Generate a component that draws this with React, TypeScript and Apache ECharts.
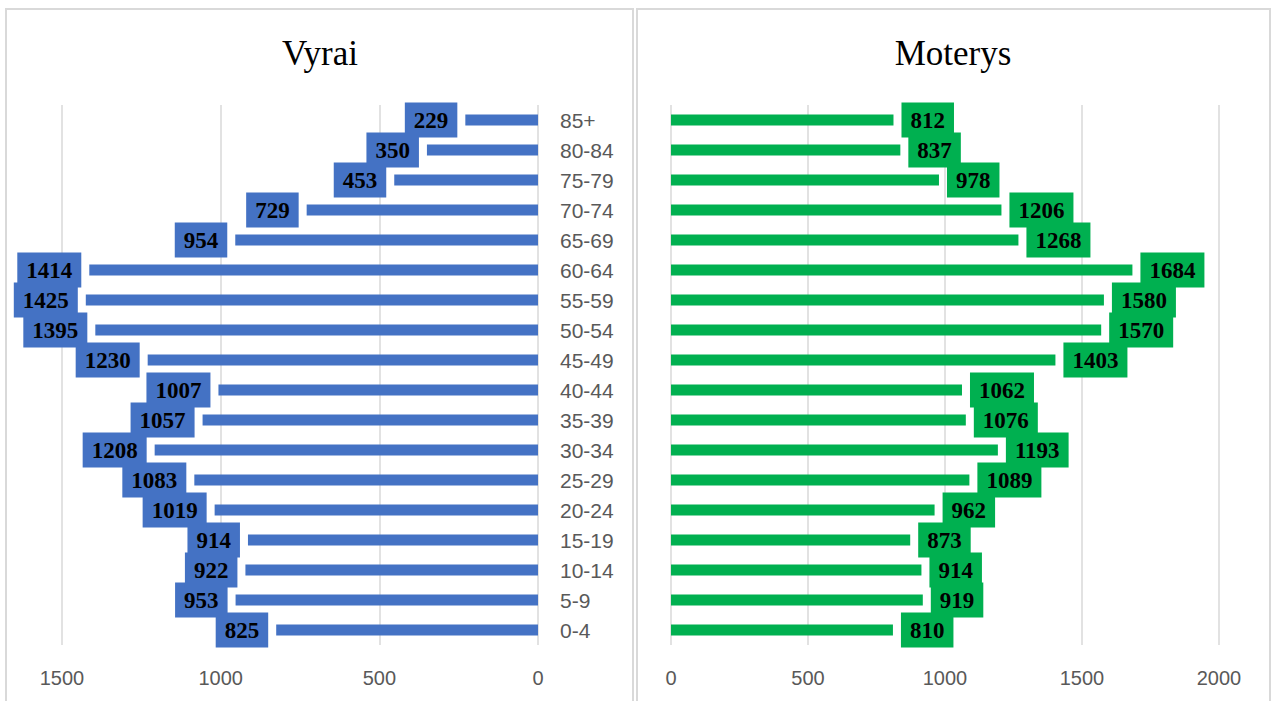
import React, { useEffect, useRef } from "react";
import * as echarts from "echarts";

const categories = ["0-4","5-9","10-14","15-19","20-24","25-29","30-34","35-39","40-44","45-49","50-54","55-59","60-64","65-69","70-74","75-79","80-84","85+"];
const maleValues = [825, 953, 922, 914, 1019, 1083, 1208, 1057, 1007, 1230, 1395, 1425, 1414, 954, 729, 453, 350, 229];
const femaleValues = [810, 919, 914, 873, 962, 1089, 1193, 1076, 1062, 1403, 1570, 1580, 1684, 1268, 1206, 978, 837, 812];
const leftTitle = "Vyrai";
const rightTitle = "Moterys";

const BLUE = "#4472C4";
const GREEN = "#00B050";
const GRAY = "#595959";
const GRID = "#d9d9d9";

export default function App() {
  const ref = useRef<HTMLDivElement>(null);
  useEffect(() => {
    if (!ref.current) return;
    const chart = echarts.init(ref.current, undefined, { renderer: "svg" });
    const labelStyle = (color: string, pos: string) => ({
      show: true,
      position: pos,
      distance: 8,
      fontFamily: "Liberation Serif",
      fontWeight: "bold",
      fontSize: 23,
      color: "#000",
      backgroundColor: color,
      padding: [7, 9, 5, 9],
      lineHeight: 23,
    });
    const axisLabel = { color: GRAY, fontSize: 20, fontFamily: "Liberation Sans", margin: 23, formatter: (v: number) => String(v) };
    chart.setOption({
      animation: false,
      backgroundColor: "#fff",
      graphic: [
        { type: "rect", shape: { x: 6, y: 9, width: 627, height: 710 }, style: { fill: "none", stroke: GRID, lineWidth: 2 }, z: -10 },
        { type: "rect", shape: { x: 637, y: 9, width: 633, height: 710 }, style: { fill: "none", stroke: GRID, lineWidth: 2 }, z: -10 },
        { type: "text", x: 320, y: 53, style: { text: leftTitle, font: "35px 'Liberation Serif'", fill: "#000", textAlign: "center", textVerticalAlign: "middle" } },
        { type: "text", x: 953, y: 53, style: { text: rightTitle, font: "35px 'Liberation Serif'", fill: "#000", textAlign: "center", textVerticalAlign: "middle" } },
      ],
      grid: [
        { left: 62, right: 739, top: 105, height: 540 },
        { left: 671, right: 58, top: 105, height: 540 },
      ],
      xAxis: [
        {
          gridIndex: 0, type: "value", inverse: true, min: 0, max: 1500, interval: 500,
          axisLine: { show: false }, axisTick: { show: false },
          splitLine: { show: true, lineStyle: { color: GRID, width: 1.5 } },
          axisLabel,
        },
        {
          gridIndex: 1, type: "value", min: 0, max: 2000, interval: 500,
          axisLine: { show: false }, axisTick: { show: false },
          splitLine: { show: true, lineStyle: { color: GRID, width: 1.5 } },
          axisLabel,
        },
      ],
      yAxis: [
        {
          gridIndex: 0, type: "category", data: categories, position: "right",
          axisLine: { show: false }, axisTick: { show: false },
          axisLabel: { color: GRAY, fontSize: 21, fontFamily: "Liberation Sans", margin: 22, align: "left" },
        },
        {
          gridIndex: 1, type: "category", data: categories,
          axisLine: { show: false }, axisTick: { show: false }, axisLabel: { show: false },
        },
      ],
      series: [
        {
          type: "bar", xAxisIndex: 0, yAxisIndex: 0, data: maleValues, barWidth: 11,
          itemStyle: { color: BLUE }, label: labelStyle(BLUE, "left"),
        },
        {
          type: "bar", xAxisIndex: 1, yAxisIndex: 1, data: femaleValues, barWidth: 11,
          itemStyle: { color: GREEN }, label: labelStyle(GREEN, "right"),
        },
      ],
    });
    return () => chart.dispose();
  }, []);
  return <div ref={ref} style={{ position: "fixed", left: 0, top: 0, width: 1277, height: 701 }} />;
}
